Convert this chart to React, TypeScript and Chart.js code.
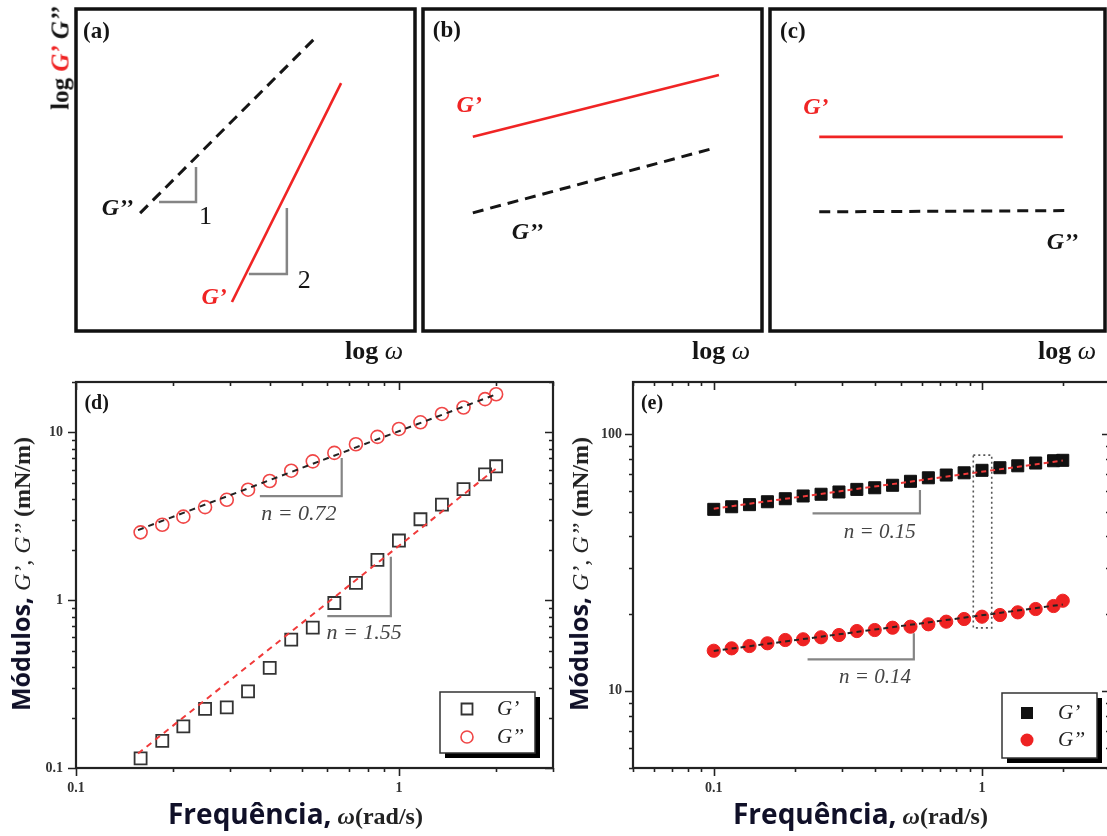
import React, { useEffect, useRef } from 'react';
import { Chart, registerables } from 'chart.js';

Chart.register(...registerables);

const SERIF = '"Liberation Serif", "Times New Roman", serif';
const SANS = '"Open Sans", "Noto Sans", Arial, sans-serif';
const RED = '#f02424';
const INK = '#151515';
const GRAY = '#858585';

const LABEL_GP = 'G’';
const LABEL_GPP = 'G’’';

// ---------- (a)-(c) schematic sketches, in a 0-100 frame space ----------
const A_GPP_X = [18.9, 71.4];
const A_GPP_Y = [36.6, 91.9];
const A_GP_X = [46.0, 78.2];
const A_GP_Y = [9.0, 77.0];
const A_TRI1_X = [24.5, 35.4, 35.4];
const A_TRI1_Y = [40.1, 40.1, 50.9];
const A_TRI2_X = [51.0, 62.2, 62.2];
const A_TRI2_Y = [17.7, 17.7, 38.2];
const A_SLOPES = ['1', '2'];

const B_GP_X = [14.7, 87.3];
const B_GP_Y = [60.3, 79.5];
const B_GPP_X = [14.7, 86.3];
const B_GPP_Y = [36.7, 56.9];

const C_GP_X = [14.7, 87.4];
const C_GP_Y = [60.3, 60.3];
const C_GPP_X = [14.7, 89.8];
const C_GPP_Y = [37.0, 37.4];

// ---------- (d) ----------
const D_OMEGA = [0.1585, 0.185, 0.215, 0.251, 0.293, 0.341, 0.398, 0.464, 0.541, 0.631, 0.736, 0.858, 1.0, 1.166, 1.359, 1.585, 1.848, 2.0];
const D_GP = [0.114, 0.145, 0.177, 0.225, 0.23, 0.286, 0.395, 0.582, 0.686, 0.963, 1.27, 1.74, 2.27, 3.04, 3.72, 4.6, 5.63, 6.29];
const D_GPP = [2.54, 2.82, 3.15, 3.59, 3.97, 4.56, 5.14, 5.92, 6.73, 7.56, 8.51, 9.42, 10.5, 11.5, 12.9, 14.1, 15.8, 16.9];
const D_FIT_X = [0.1556, 2.0];
const D_FIT_GP = [0.122, 6.1];
const D_FIT_GPP = [2.62, 16.9];
const D_X_TICKS = [0.1, 1];
const D_Y_TICKS = [0.1, 1, 10];
const D_TRI1_X = [0.371, 0.665, 0.665];
const D_TRI1_Y = [4.18, 4.18, 7.04];
const D_TRI2_X = [0.6, 0.944, 0.944];
const D_TRI2_Y = [0.805, 0.805, 1.816];
const D_N = ['n = 0.72', 'n = 1.55'];

// ---------- (e) ----------
const E_OMEGA = [0.1, 0.1166, 0.1359, 0.1585, 0.1848, 0.2154, 0.2512, 0.2929, 0.3415, 0.3981, 0.4642, 0.5412, 0.631, 0.7356, 0.8577, 1.0, 1.166, 1.359, 1.585, 1.848, 2.0];
const E_GP = [51.0, 52.2, 53.2, 54.6, 56.1, 57.5, 58.4, 59.6, 61.0, 61.9, 63.3, 65.6, 67.7, 69.4, 70.8, 72.4, 74.1, 75.4, 77.3, 78.9, 79.2];
const E_GPP = [14.33, 14.64, 14.95, 15.32, 15.78, 15.88, 16.17, 16.5, 17.1, 17.26, 17.62, 17.78, 18.17, 18.6, 19.05, 19.45, 19.75, 20.23, 20.84, 21.41, 22.45];
const E_FIT_X = [0.1, 2.0];
const E_FIT_GP = [51.3, 79.0];
const E_FIT_GPP = [14.3, 21.7];
const E_X_TICKS = [0.1, 1];
const E_Y_TICKS = [10, 100];
const E_TRI1_X = [0.2335, 0.587, 0.587];
const E_TRI1_Y = [49.2, 49.2, 60.7];
const E_TRI2_X = [0.2237, 0.557, 0.557];
const E_TRI2_Y = [13.27, 13.27, 16.75];
const E_BOX_X = [0.928, 1.087];
const E_BOX_Y = [17.6, 83.0];
const E_N = ['n = 0.15', 'n = 0.14'];

const pts = (xs: number[], ys: number[]) => xs.map((x, i) => ({ x, y: ys[i] }));

function overlay(items: any[]) {
  return {
    id: 'overlay',
    afterDatasetsDraw(chart: any) {
      const ctx = chart.ctx as CanvasRenderingContext2D;
      const X = (v: number) => chart.scales.x.getPixelForValue(v);
      const Y = (v: number) => chart.scales.y.getPixelForValue(v);
      ctx.save();
      for (const it of items) {
        ctx.setLineDash([]);
        if (it.kind === 'poly') {
          ctx.beginPath();
          ctx.setLineDash(it.dash || []);
          ctx.strokeStyle = it.color;
          ctx.lineWidth = it.width;
          it.x.forEach((xv: number, i: number) => {
            const px = X(xv), py = Y(it.y[i]);
            if (i) ctx.lineTo(px, py); else ctx.moveTo(px, py);
          });
          ctx.stroke();
        } else if (it.kind === 'text') {
          ctx.font = it.font;
          ctx.fillStyle = it.color;
          ctx.textAlign = it.align || 'center';
          ctx.textBaseline = 'middle';
          ctx.fillText(it.text, X(it.x), Y(it.y));
        } else if (it.kind === 'rect') {
          ctx.setLineDash(it.dash || []);
          ctx.strokeStyle = it.color;
          ctx.lineWidth = it.width;
          const x0 = X(it.x[0]), x1 = X(it.x[1]), y0 = Y(it.y[0]), y1 = Y(it.y[1]);
          ctx.strokeRect(Math.min(x0, x1), Math.min(y0, y1), Math.abs(x1 - x0), Math.abs(y1 - y0));
        } else if (it.kind === 'legend') {
          const a = chart.chartArea;
          const r = a.right - it.right, b = a.bottom - it.bottom;
          const l = r - it.w, t = b - it.h;
          ctx.fillStyle = '#000';
          ctx.fillRect(l + 5, t + 5, it.w, it.h);
          ctx.fillStyle = '#fff';
          ctx.fillRect(l, t, it.w, it.h);
          ctx.strokeStyle = '#333';
          ctx.lineWidth = 1.5;
          ctx.strokeRect(l, t, it.w, it.h);
          it.entries.forEach((e: any, i: number) => {
            const cy = t + it.row0 + i * it.rowGap;
            const cx = l + it.markX;
            ctx.beginPath();
            if (e.shape === 'rect') ctx.rect(cx - e.size / 2, cy - e.size / 2, e.size, e.size);
            else ctx.arc(cx, cy, e.size / 2, 0, Math.PI * 2);
            if (e.fill) { ctx.fillStyle = e.fill; ctx.fill(); }
            if (e.stroke) { ctx.strokeStyle = e.stroke; ctx.lineWidth = e.lw; ctx.stroke(); }
            ctx.font = `italic 21px ${SERIF}`;
            ctx.fillStyle = '#222';
            ctx.textAlign = 'left';
            ctx.textBaseline = 'middle';
            ctx.fillText(e.label, l + it.textX, cy);
          });
        }
      }
      ctx.restore();
    },
  };
}

function boxFrame(width: number) {
  return {
    id: 'boxFrame',
    afterDraw(chart: any) {
      const { ctx, chartArea: a } = chart;
      ctx.save();
      ctx.strokeStyle = '#111';
      ctx.lineWidth = width;
      ctx.strokeRect(a.left, a.top, a.right - a.left, a.bottom - a.top);
      ctx.restore();
    },
  };
}

function logAxes() {
  return {
    id: 'logAxes',
    afterDraw(chart: any) {
      const { ctx, chartArea: a } = chart;
      const xs = chart.scales.x, ys = chart.scales.y;
      const marks = (min: number, max: number) => {
        const out: { v: number; major: boolean }[] = [];
        for (let e = Math.floor(Math.log10(min)) - 1; e <= Math.ceil(Math.log10(max)); e++) {
          for (let m = 1; m <= 9; m++) {
            const v = m * Math.pow(10, e);
            if (v >= min * 0.999 && v <= max * 1.001) out.push({ v, major: m === 1 });
          }
        }
        return out;
      };
      ctx.save();
      ctx.strokeStyle = '#222';
      ctx.lineWidth = 1.6;
      ctx.beginPath();
      for (const t of marks(xs.min, xs.max)) {
        const x = Math.round(xs.getPixelForValue(t.v)) + 0.5;
        const L = t.major ? 8 : 4;
        ctx.moveTo(x, a.bottom); ctx.lineTo(x, a.bottom + L);
        ctx.moveTo(x, a.top); ctx.lineTo(x, a.top + L);
      }
      for (const t of marks(ys.min, ys.max)) {
        const y = Math.round(ys.getPixelForValue(t.v)) + 0.5;
        const L = t.major ? 8 : 4;
        ctx.moveTo(a.left - L, y); ctx.lineTo(a.left, y);
        ctx.moveTo(a.right - L, y); ctx.lineTo(a.right, y);
      }
      ctx.stroke();
      ctx.lineWidth = 2.2;
      ctx.strokeRect(a.left, a.top, a.right - a.left, a.bottom - a.top);
      ctx.restore();
    },
  };
}

function schematic(lines: any[], items: any[]) {
  return {
    type: 'scatter',
    data: {
      datasets: lines.map((l) => ({
        data: pts(l.x, l.y),
        showLine: true,
        borderColor: l.color,
        borderWidth: l.width,
        borderDash: l.dash || [],
        pointRadius: 0,
        fill: false,
      })),
    },
    options: {
      responsive: false,
      animation: false,
      events: [],
      layout: { padding: 6 },
      plugins: { legend: { display: false }, tooltip: { enabled: false } },
      scales: {
        x: { type: 'linear', display: false, min: 0, max: 100 },
        y: { type: 'linear', display: false, min: 0, max: 100 },
      },
    },
    plugins: [overlay(items), boxFrame(3.5)],
  } as any;
}

const zeroPad = (s: any) => {
  s.paddingTop = 0;
  s.paddingBottom = 0;
  s.paddingLeft = 0;
  s.paddingRight = 0;
};

function logChart(o: any) {
  const tickFont = { family: SERIF, size: 14, weight: 'bold' };
  return {
    type: 'scatter',
    data: { datasets: o.datasets },
    options: {
      responsive: false,
      animation: false,
      events: [],
      layout: { padding: { top: o.padTop, right: o.padRight, left: 0, bottom: 0 } },
      plugins: { legend: { display: false }, tooltip: { enabled: false } },
      scales: {
        x: {
          type: 'logarithmic',
          position: 'bottom',
          min: o.xMin,
          max: o.xMax,
          afterBuildTicks: (s: any) => { s.ticks = o.xTicks.map((v: number) => ({ value: v })); },
          afterFit: (s: any) => { s.height = o.xAxisH; zeroPad(s); },
          grid: { display: false, drawTicks: false },
          border: { display: false },
          ticks: { autoSkip: false, maxRotation: 0, padding: o.xPad, color: '#333', font: tickFont, callback: (v: any) => String(v) },
        },
        y: {
          type: 'logarithmic',
          position: 'left',
          min: o.yMin,
          max: o.yMax,
          afterBuildTicks: (s: any) => { s.ticks = o.yTicks.map((v: number) => ({ value: v })); },
          afterFit: (s: any) => { s.width = o.yAxisW; zeroPad(s); },
          grid: { display: false, drawTicks: false },
          border: { display: false },
          ticks: { autoSkip: false, padding: o.yPad, color: '#333', font: tickFont, callback: (v: any) => String(v) },
        },
      },
    },
    plugins: [overlay(o.items), logAxes()],
  } as any;
}

const makeA = () =>
  schematic(
    [
      { x: A_GPP_X, y: A_GPP_Y, color: INK, width: 3, dash: [11, 7] },
      { x: A_GP_X, y: A_GP_Y, color: RED, width: 2.6 },
    ],
    [
      { kind: 'poly', x: A_TRI1_X, y: A_TRI1_Y, color: GRAY, width: 2.5 },
      { kind: 'poly', x: A_TRI2_X, y: A_TRI2_Y, color: GRAY, width: 2.5 },
      { kind: 'text', x: 2.1, y: 92.9, text: '(a)', font: `bold 23px ${SERIF}`, color: INK, align: 'left' },
      { kind: 'text', x: 16.9, y: 37.9, text: LABEL_GPP, font: `italic bold 24px ${SERIF}`, color: INK, align: 'right' },
      { kind: 'text', x: 36.3, y: 35.4, text: A_SLOPES[0], font: `26px ${SERIF}`, color: INK, align: 'left' },
      { kind: 'text', x: 65.4, y: 15.5, text: A_SLOPES[1], font: `26px ${SERIF}`, color: INK, align: 'left' },
      { kind: 'text', x: 44.5, y: 10.2, text: LABEL_GP, font: `italic bold 24px ${SERIF}`, color: RED, align: 'right' },
    ]
  );

const makeB = () =>
  schematic(
    [
      { x: B_GPP_X, y: B_GPP_Y, color: INK, width: 3, dash: [11, 7] },
      { x: B_GP_X, y: B_GP_Y, color: RED, width: 2.6 },
    ],
    [
      { kind: 'text', x: 2.9, y: 93, text: '(b)', font: `bold 23px ${SERIF}`, color: INK, align: 'left' },
      { kind: 'text', x: 9.9, y: 69.9, text: LABEL_GP, font: `italic bold 24px ${SERIF}`, color: RED, align: 'left' },
      { kind: 'text', x: 26.2, y: 30.4, text: LABEL_GPP, font: `italic bold 24px ${SERIF}`, color: INK, align: 'left' },
    ]
  );

const makeC = () =>
  schematic(
    [
      { x: C_GPP_X, y: C_GPP_Y, color: INK, width: 3, dash: [11, 7] },
      { x: C_GP_X, y: C_GP_Y, color: RED, width: 2.6 },
    ],
    [
      { kind: 'text', x: 3.0, y: 92.9, text: '(c)', font: `bold 23px ${SERIF}`, color: INK, align: 'left' },
      { kind: 'text', x: 9.9, y: 69.4, text: LABEL_GP, font: `italic bold 24px ${SERIF}`, color: RED, align: 'left' },
      { kind: 'text', x: 82.6, y: 27.5, text: LABEL_GPP, font: `italic bold 24px ${SERIF}`, color: INK, align: 'left' },
    ]
  );

const makeD = () =>
  logChart({
    xMin: 0.1, xMax: 3, yMin: 0.1, yMax: 20,
    xTicks: D_X_TICKS, yTicks: D_Y_TICKS,
    padTop: 12, padRight: 12, yAxisW: 76, xAxisH: 68, xPad: 12, yPad: 13,
    datasets: [
      { data: pts(D_FIT_X, D_FIT_GPP), showLine: true, borderColor: '#222', borderWidth: 2, borderDash: [6, 5], pointRadius: 0 },
      { data: pts(D_FIT_X, D_FIT_GP), showLine: true, borderColor: '#f03a3a', borderWidth: 2, borderDash: [6, 5], pointRadius: 0 },
      { data: pts(D_OMEGA, D_GP), showLine: false, pointStyle: 'rect', pointRadius: 8.5, borderColor: '#333', borderWidth: 1.8, backgroundColor: 'rgba(0,0,0,0)' },
      { data: pts(D_OMEGA, D_GPP), showLine: false, pointStyle: 'circle', pointRadius: 6.5, borderColor: '#f04646', borderWidth: 1.6, backgroundColor: 'rgba(0,0,0,0)' },
    ],
    items: [
      { kind: 'poly', x: D_TRI1_X, y: D_TRI1_Y, color: GRAY, width: 2.2 },
      { kind: 'poly', x: D_TRI2_X, y: D_TRI2_Y, color: GRAY, width: 2.2 },
      { kind: 'text', x: 0.49, y: 3.26, text: D_N[0], font: `italic 22px ${SERIF}`, color: '#444' },
      { kind: 'text', x: 0.78, y: 0.637, text: D_N[1], font: `italic 22px ${SERIF}`, color: '#444' },
      { kind: 'text', x: 0.1062, y: 14.8, text: '(d)', font: `bold 20px ${SERIF}`, color: INK, align: 'left' },
      {
        kind: 'legend', right: 18, bottom: 15, w: 95, h: 61, markX: 27, row0: 17, rowGap: 28, textX: 57,
        entries: [
          { shape: 'rect', size: 11, stroke: '#333', lw: 1.8, label: LABEL_GP },
          { shape: 'circle', size: 12, stroke: '#f04646', lw: 1.6, label: LABEL_GPP },
        ],
      },
    ],
  });

const makeE = () =>
  logChart({
    xMin: 0.05, xMax: 3, yMin: 5, yMax: 160,
    xTicks: E_X_TICKS, yTicks: E_Y_TICKS,
    padTop: 12, padRight: 10, yAxisW: 63, xAxisH: 68, xPad: 12, yPad: 11,
    datasets: [
      { data: pts(E_FIT_X, E_FIT_GPP), showLine: true, borderColor: '#222', borderWidth: 2, borderDash: [5, 4], pointRadius: 0 },
      { data: pts(E_FIT_X, E_FIT_GP), showLine: true, borderColor: '#f03a3a', borderWidth: 2, borderDash: [5, 4], pointRadius: 0 },
      { data: pts(E_OMEGA, E_GP), showLine: false, pointStyle: 'rect', pointRadius: 8.5, borderColor: '#111', borderWidth: 1, backgroundColor: '#111' },
      { data: pts(E_OMEGA, E_GPP), showLine: false, pointStyle: 'circle', pointRadius: 6.6, borderColor: '#ee2222', borderWidth: 1, backgroundColor: '#ee2222' },
    ],
    items: [
      { kind: 'poly', x: E_TRI1_X, y: E_TRI1_Y, color: GRAY, width: 2.2 },
      { kind: 'poly', x: E_TRI2_X, y: E_TRI2_Y, color: GRAY, width: 2.2 },
      { kind: 'rect', x: E_BOX_X, y: E_BOX_Y, color: '#555', width: 1.6, dash: [2, 3] },
      { kind: 'text', x: 0.416, y: 41.6, text: E_N[0], font: `italic 21px ${SERIF}`, color: '#444' },
      { kind: 'text', x: 0.399, y: 11.32, text: E_N[1], font: `italic 21px ${SERIF}`, color: '#444' },
      { kind: 'text', x: 0.0535, y: 132, text: '(e)', font: `bold 20px ${SERIF}`, color: INK, align: 'left' },
      {
        kind: 'legend', right: 13, bottom: 10, w: 95, h: 65, markX: 25, row0: 20, rowGap: 27, textX: 56,
        entries: [
          { shape: 'rect', size: 12, fill: '#111', label: LABEL_GP },
          { shape: 'circle', size: 13, fill: '#ee2222', label: LABEL_GPP },
        ],
      },
    ],
  });

function ChartBox(props: { left: number; top: number; width: number; height: number; make: () => any }) {
  const ref = useRef<HTMLCanvasElement>(null);
  useEffect(() => {
    const chart = new Chart(ref.current as HTMLCanvasElement, props.make());
    return () => chart.destroy();
  }, []);
  return (
    <canvas
      ref={ref}
      width={props.width}
      height={props.height}
      style={{ position: 'absolute', left: props.left, top: props.top, width: props.width, height: props.height }}
    />
  );
}

const centered = (x: number, y: number, rotate = false): React.CSSProperties => ({
  position: 'absolute',
  left: x,
  top: y,
  transform: `translate(-50%, -50%)${rotate ? ' rotate(-90deg)' : ''}`,
  whiteSpace: 'nowrap',
  lineHeight: 1,
});

function LogOmega({ x }: { x: number }) {
  return (
    <div style={{ ...centered(x, 351), fontFamily: SERIF, fontWeight: 'bold', fontSize: 26, color: INK }}>
      log{' '}<span style={{ fontStyle: 'italic', fontWeight: 'normal' }}>ω</span>
    </div>
  );
}

function YTitle({ x }: { x: number }) {
  return (
    <div style={{ ...centered(x, 574, true), color: '#101028' }}>
      <span style={{ fontFamily: SANS, fontWeight: 'bold', fontSize: 25 }}>Módulos,</span>
      <span style={{ fontFamily: SERIF, fontSize: 24, color: '#222' }}>
        {'  '}
        <span style={{ fontStyle: 'italic' }}>{LABEL_GP}, {LABEL_GPP}</span>{' '}
        <span style={{ fontWeight: 'bold' }}>(mN/m)</span>
      </span>
    </div>
  );
}

function XTitle({ left }: { left: number }) {
  return (
    <div style={{ position: 'absolute', left, top: 813, transform: 'translateY(-50%)', whiteSpace: 'nowrap', lineHeight: 1, color: '#101028' }}>
      <span style={{ fontFamily: SANS, fontWeight: 'bold', fontSize: 28 }}>Frequência,</span>
      <span style={{ fontFamily: SERIF, fontSize: 24, fontWeight: 'bold', color: '#222' }}>
        {' '}
        <span style={{ fontStyle: 'italic' }}>ω</span>(rad/s)
      </span>
    </div>
  );
}

export default function App() {
  return (
    <div style={{ position: 'absolute', left: 0, top: 0, width: 1107, height: 836, overflow: 'hidden', background: '#fff' }}>
      <ChartBox left={70} top={3} width={351} height={334} make={makeA} />
      <ChartBox left={417} top={3} width={351} height={334} make={makeB} />
      <ChartBox left={764} top={3} width={347} height={334} make={makeC} />
      <ChartBox left={0} top={370} width={565} height={466} make={makeD} />
      <ChartBox left={570} top={370} width={550} height={466} make={makeE} />

      <div style={{ ...centered(60, 58, true), fontFamily: SERIF, fontWeight: 'bold', fontSize: 25, color: INK }}>
        log{' '}
        <span style={{ color: RED, fontStyle: 'italic' }}>{LABEL_GP}</span>{' '}
        <span style={{ fontStyle: 'italic' }}>{LABEL_GPP}</span>
      </div>
      <LogOmega x={374} />
      <LogOmega x={721} />
      <LogOmega x={1067} />

      <YTitle x={21} />
      <YTitle x={579} />
      <XTitle left={168} />
      <XTitle left={733} />
    </div>
  );
}
